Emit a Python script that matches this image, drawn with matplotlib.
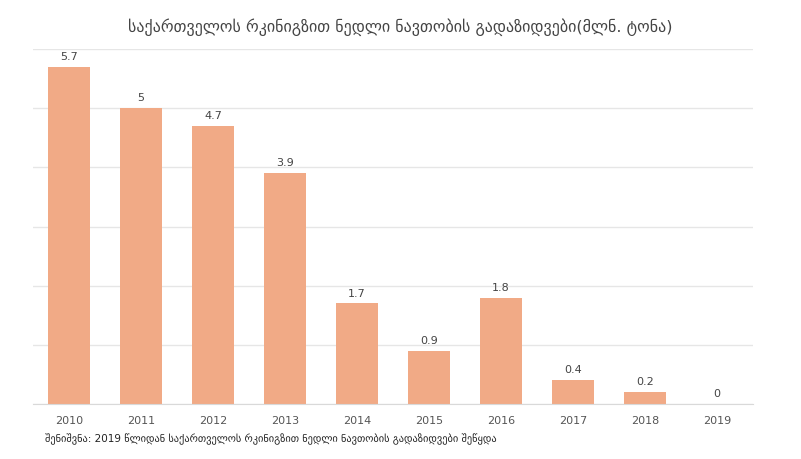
import matplotlib
matplotlib.use("Agg")
from matplotlib import pyplot as plt

# data
years = ["2010", "2011", "2012", "2013", "2014", "2015", "2016", "2017", "2018", "2019"]
values = [5.7, 5, 4.7, 3.9, 1.7, 0.9, 1.8, 0.4, 0.2, 0]
labels = ["5.7", "5", "4.7", "3.9", "1.7", "0.9", "1.8", "0.4", "0.2", "0"]

title = "საქართველოს რკინიგზით ნედლი ნავთობის გადაზიდვები(მლნ. ტონა)"
note = "შენიშვნა: 2019 წლიდან საქართველოს რკინიგზით ნედლი ნავთობის გადაზიდვები შეწყდა"

plt.rcParams['font.family'] = ['DejaVu Sans']

fig = plt.figure(figsize=(8.01, 4.60), dpi=100)
ax = fig.add_axes([0.0412, 0.1196, 0.899, 0.7714])

x = list(range(len(years)))
bars = ax.bar(x, values, width=0.58, color="#F1AA86", zorder=2)

for xi, v, lab in zip(x, values, labels):
    ax.text(xi, v + 0.1, lab, ha="center", va="bottom", fontsize=8, color="#444444")

ax.set_xlim(-0.5, len(years) - 0.5)
ax.set_ylim(0, 6)
ax.set_yticks(range(0, 7))
ax.set_yticklabels([])
ax.tick_params(axis="y", length=0)
ax.set_xticks(x)
ax.set_xticklabels(years, fontsize=8, color="#555555")
ax.tick_params(axis="x", length=0, pad=8)
ax.grid(axis="y", color="#e6e6e6", linewidth=1, zorder=0)

for side in ["top", "right", "left"]:
    ax.spines[side].set_visible(False)
ax.spines["bottom"].set_color("#d9d9d9")

fig.text(0.5, 0.94, title, ha="center", va="center", fontsize=11.5, color="#444444")
fig.text(0.056, 0.045, note, ha="left", va="center", fontsize=7.5, color="#222222")

fig.savefig("out.png", dpi=100)
